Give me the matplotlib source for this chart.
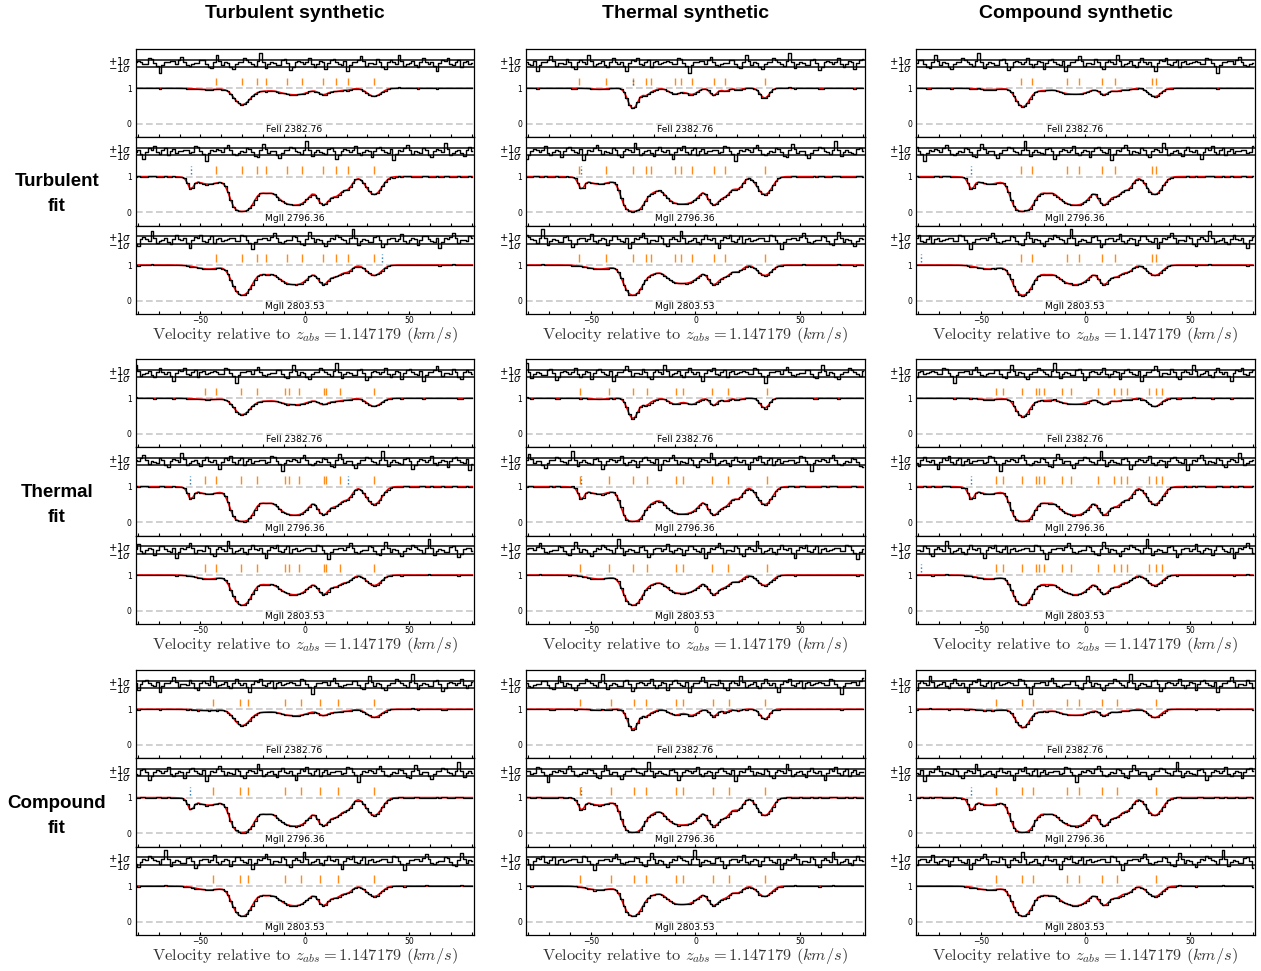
import numpy as np
import matplotlib
matplotlib.use('Agg')
import matplotlib.pyplot as plt
from matplotlib.ticker import MultipleLocator

# ---------------- data ----------------
col_titles = ["Turbulent synthetic", "Thermal synthetic", "Compound synthetic"]
row_titles = ["Turbulent\nfit", "Thermal\nfit", "Compound\nfit"]
ion_labels = ["FeII 2382.76", "MgII 2796.36", "MgII 2803.53"]
z_abs = "1.147179"

# synthetic absorption components per column (velocity km/s, optical depth, b km/s)
turb_v      = [-46.0, -30.0, -22.9, -18.6, -8.6, -1.4, 8.9, 14.9, 20.5, 33.2]
turb_tau_mg = [0.24, 3.8, 0.30, 0.40, 1.2, 1.0, 1.5, 0.76, 0.40, 0.70]
turb_b_mg   = [8.0, 4.8, 3.5, 3.5, 7.0, 6.0, 3.3, 3.5, 3.0, 4.5]
turb_tau_fe = [0.04, 0.62, 0.06, 0.05, 0.15, 0.13, 0.19, 0.09, 0.05, 0.26]
turb_b_fe   = [8.0, 4.8, 3.5, 3.5, 7.0, 6.0, 3.3, 3.5, 3.0, 4.5]

therm_v      = [-46.0, -29.9, -23.8, -20.0, -9.7, -1.75, 8.7, 14.3, 20.5, 33.2]
therm_tau_mg = [0.24, 3.8, 0.35, 0.35, 1.2, 1.0, 1.5, 0.76, 0.40, 0.70]
therm_b_mg   = [8.0, 4.6, 3.5, 3.5, 6.5, 6.0, 3.3, 3.5, 3.0, 4.3]
therm_tau_fe = [0.03, 0.85, 0.22, 0.06, 0.18, 0.19, 0.23, 0.09, 0.05, 0.33]
therm_b_fe   = [5.0, 3.0, 2.4, 2.4, 4.0, 3.8, 2.3, 2.4, 2.2, 2.8]

comp_v      = [-46.0, -30.0, -22.9, -18.6, -8.6, -1.4, 8.9, 14.9, 20.5, 33.2]
comp_tau_mg = [0.24, 3.8, 0.30, 0.40, 1.2, 1.0, 1.5, 0.76, 0.40, 0.70]
comp_b_mg   = [8.0, 4.8, 3.5, 3.5, 7.0, 6.0, 3.3, 3.5, 3.0, 4.5]
comp_tau_fe = [0.04, 0.74, 0.06, 0.05, 0.15, 0.13, 0.20, 0.09, 0.05, 0.27]
comp_b_fe   = [7.0, 4.0, 3.0, 3.0, 6.0, 5.2, 2.9, 3.0, 2.7, 3.9]

# narrow blend seen only in MgII 2796 (velocity, optical depth, b)
blend_v, blend_tau, blend_b = -54.6, 0.36, 1.8
mg_ratio_2803 = 0.5  # oscillator strength ratio 2803/2796

# normalised residuals (sigma units), pixel by pixel
resid = [0.2, 0.5, 0.4, -0.3, -0.2, 1.3, 1.1, 0.1, -0.6, -2.3, -0.4, 0.3, 0.2, 0.6, 0.5, -0.1, 0.8, 1.6, 0.4, -0.5,
         -0.7, -0.3, 0.1, 0.0, 0.9, 0.7, -0.2, -1.0, -1.2, 0.3, 1.9, 0.6, -0.4, 0.2, 0.1, -0.8, -1.5, -0.3, 0.4, 0.3,
         1.2, 0.8, 0.2, -0.1, -0.6, 0.5, 2.6, 0.4, -1.1, -0.2, 0.3, 0.0, -0.4, -0.5, 0.7, 1.0, 0.1, -1.7, -0.9, 0.2,
         0.6, 0.4, -0.2, 0.3, 1.4, -0.3, -0.8, -0.1, 0.5, 0.2, -1.3, 0.1, 0.9, 1.1, 0.3, -0.2, -0.4, 0.6, -2.0, -0.5,
         0.4, 0.2, 0.8, 1.7, 0.5, -0.6, 0.1, 0.0, -0.3, 1.0, 0.4, -0.9, -1.4, 0.2, 0.7, 0.3, -0.2, 2.1, 0.6, -0.7,
         -0.3, 0.1, 0.5, -0.4, -1.0, 0.3, 1.2, 0.2, -0.1, 0.4, -0.6, -1.9, 0.0, 0.8, 0.5, 1.3, -0.2, -0.5, 0.3, 0.9,
         -0.8, 0.2, 0.6, -0.3, 0.1]
noise_sigma = 0.01

# fitted component velocities for each (fit row, synthetic column)
ticks_r1c1 = [-42.4, -30.0, -22.9, -18.6, -8.6, -1.4, 8.9, 14.9, 20.5, 33.2]
ticks_r1c2 = [-56.0, -42.9, -29.9, -23.8, -21.1, -9.7, -7.1, -1.75, 8.7, 14.3, 33.2]
ticks_r1c3 = [-31.0, -25.7, -8.6, -2.9, 8.1, 14.3, 31.9, 33.8]
ticks_r2c1 = [-47.6, -42.4, -30.5, -22.9, -9.5, -7.6, -2.9, 9.0, 10.0, 17.0, 32.9]
ticks_r2c2 = [-55.2, -41.4, -30.0, -23.3, -9.5, -6.2, 8.1, 15.7, 34.3]
ticks_r2c3 = [-42.9, -39.5, -30.5, -23.8, -22.4, -20.0, -11.0, -7.1, 6.2, 13.8, 17.1, 20.0, 30.5, 33.8, 36.7]
ticks_r3c1 = [-43.8, -31.0, -27.1, -9.5, -1.9, 7.1, 15.7, 33.3]
ticks_r3c2 = [-55.2, -40.5, -29.5, -23.8, -9.5, -6.2, 8.6, 16.2, 33.3]
ticks_r3c3 = [-42.9, -30.5, -25.2, -9.0, -3.3, 8.1, 15.2, 33.8]
# blend component ticks per panel (FeII, MgII2796, MgII2803)
blend_r1c1 = [[], [-54.6], [37.0]]
blend_r1c2 = [[-29.9], [-54.8], []]
blend_r1c3 = [[], [-54.8], [-78.6]]
blend_r2c1 = [[], [-54.8, 20.5], []]
blend_r2c2 = [[], [-54.8], []]
blend_r2c3 = [[], [-54.8], [-78.6]]
blend_r3c1 = [[], [-54.8], []]
blend_r3c2 = [[], [-54.8], []]
blend_r3c3 = [[], [-54.8], []]

# ---------------- build ----------------
synth = [
    (turb_v, turb_tau_mg, turb_b_mg, turb_tau_fe, turb_b_fe),
    (therm_v, therm_tau_mg, therm_b_mg, therm_tau_fe, therm_b_fe),
    (comp_v, comp_tau_mg, comp_b_mg, comp_tau_fe, comp_b_fe),
]
ticks = [[ticks_r1c1, ticks_r1c2, ticks_r1c3],
         [ticks_r2c1, ticks_r2c2, ticks_r2c3],
         [ticks_r3c1, ticks_r3c2, ticks_r3c3]]
blends = [[blend_r1c1, blend_r1c2, blend_r1c3],
          [blend_r2c1, blend_r2c2, blend_r2c3],
          [blend_r3c1, blend_r3c2, blend_r3c3]]

vel = np.arange(-81.0, 81.5, 1.3)
resid_arr = np.array(resid)


def tau_profile(v, cv, ctau, cb):
    t = np.zeros_like(v)
    for v0, t0, b0 in zip(cv, ctau, cb):
        t += t0 * np.exp(-((v - v0) / b0) ** 2)
    return t


def profiles(col):
    cv, tmg, bmg, tfe, bfe = synth[col]
    fe = np.exp(-tau_profile(vel, cv, tfe, bfe))
    tau_mg = tau_profile(vel, cv, tmg, bmg)
    mg1 = np.exp(-(tau_mg + tau_profile(vel, [blend_v], [blend_tau], [blend_b])))
    mg2 = np.exp(-tau_mg * mg_ratio_2803)
    return [fe, mg1, mg2]


W, H = 1261, 971
fig = plt.figure(figsize=(W / 100, H / 100), dpi=100)

col_left = [135.7, 526.3, 916.3]
col_w = 338.3
block_top = [49.0, 359.0, 670.0]
pan_h = 88.4
res_c, res_s = 1.7, 0.1

for r in range(3):
    for c in range(3):
        profs = profiles(c)
        for p in range(3):
            y0 = block_top[r] + p * pan_h
            ax = fig.add_axes([col_left[c] / W, 1 - (y0 + pan_h) / H, col_w / W, pan_h / H])
            model = profs[p]
            shift = (r * 9 + c * 3 + p) * 17
            res = np.roll(resid_arr, shift)
            data = model + noise_sigma * res
            ax.axhline(0, color='#c8c8c8', ls=(0, (4, 2)), lw=1.2, zorder=1)
            ax.axhline(1, color='#c8c8c8', ls=(0, (4, 2)), lw=1.2, zorder=1)
            ax.axhline(res_c + res_s, color='#404040', lw=1.4, zorder=1)
            ax.axhline(res_c - res_s, color='#404040', lw=1.4, zorder=1)
            ax.step(vel, res_c + 1.15 * res_s * res, where='mid', color='black', lw=1.0, zorder=3)
            ax.plot(vel, model, color='red', lw=1.2, zorder=2)
            ax.step(vel, data, where='mid', color='black', lw=0.9, zorder=3)
            ax.vlines(ticks[r][c], 1.08, 1.3, color='#ff8c1a', lw=1.0, zorder=4)
            if blends[r][c][p]:
                ax.vlines(blends[r][c][p], 1.08, 1.3, color='#1f77b4', lw=1.0,
                          linestyles=':', zorder=5)
            ax.text(-5.0, -0.17, ion_labels[p], ha='center', va='center', fontsize=6.6)
            ax.set_xlim(-81, 81)
            ax.set_ylim(-0.38, 2.1)
            ax.xaxis.set_major_locator(MultipleLocator(50))
            ax.xaxis.set_minor_locator(MultipleLocator(10))
            ax.tick_params(axis='x', which='both', direction='in', length=2.5, width=0.8,
                           labelsize=5.5, pad=1.5)
            if p < 2:
                ax.tick_params(axis='x', which='both', labelbottom=False)
            ax.set_yticks([0, 1, res_c - res_s, res_c + res_s])
            ax.set_yticklabels(['0', '1', r'$-1\sigma$', r'$+1\sigma$'])
            ax.tick_params(axis='y', direction='in', length=0, pad=3)
            for i, lbl in enumerate(ax.get_yticklabels()):
                lbl.set_fontsize(5.5 if i < 2 else 7.2)
            for s in ax.spines.values():
                s.set_linewidth(0.9)
        # x label under each block
        yb = block_top[r] + 3 * pan_h
        fig.text((col_left[c] + col_w / 2) / W, 1 - (yb + 20.5) / H,
                 r'Velocity relative to $z_{abs} = 1.147179$ $(km/s)$',
                 ha='center', va='center', fontsize=11.8, family='cmr10',
                 math_fontfamily='cm', color='#333333')

title_x = [295, 686, 1076]
for c in range(3):
    fig.text(title_x[c] / W, 1 - 13 / H, col_titles[c], ha='center', va='center',
             fontsize=14, fontweight='bold', family='Liberation Sans')
row_y = [194, 505, 816]
for r in range(3):
    fig.text(57 / W, 1 - row_y[r] / H, row_titles[r], ha='center', va='center',
             fontsize=13.5, fontweight='bold', family='Liberation Sans', linespacing=1.55)

fig.savefig('out.png', dpi=100)
